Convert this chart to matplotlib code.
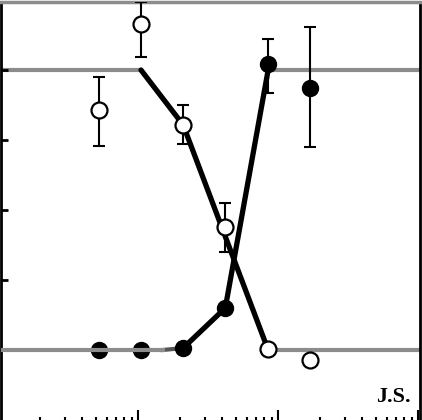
"""Dose-response style plot: open vs filled circle transitions on a log axis"""
import matplotlib.pyplot as plt
import matplotlib.ticker as mticker
import numpy as np

# concentrations (log axis) shared by both series
conc = [0.53, 1.05, 2.1, 4.2, 8.5, 17.0]

# open circles with asymmetric error bars
open_y = [85.7, 116.4, 80.4, 43.9, 0.4, -3.6]
open_err_low = [12.8, 11.8, 6.8, 8.9, 0.0, 0.0]
open_err_high = [11.8, 8.0, 7.1, 8.6, 0.0, 0.0]

# filled circles with asymmetric error bars
filled_y = [0.0, 0.0, 0.7, 15.0, 102.1, 93.6]
filled_err_low = [0.0, 0.0, 0.0, 0.0, 10.3, 21.1]
filled_err_high = [0.0, 0.0, 0.0, 0.0, 8.9, 21.8]

# fitted curves: plateau (gray) and transition (black) segments
open_plateau_hi_x = [0.1, 1.05]
open_plateau_hi_y = [100, 100]
open_fit_x = [1.05, 2.1, 8.5]
open_fit_y = [100, 80.4, 0]
open_plateau_lo_x = [8.5, 110]
open_plateau_lo_y = [0, 0]

filled_plateau_lo_x = [0.1, 1.5]
filled_plateau_lo_y = [0, 0]
filled_fit_x = [1.5, 2.1, 4.2, 8.5]
filled_fit_y = [0, 0.7, 15.0, 100]
filled_plateau_hi_x = [8.5, 110]
filled_plateau_hi_y = [100, 100]

yticks = [0, 25, 50, 75, 100]

fig = plt.figure(figsize=(4.22, 4.20), dpi=100)
ax = fig.add_axes([1 / 422, 0, 419 / 422, 418 / 420])

gray = '#8c8c8c'
ax.plot(open_plateau_hi_x, open_plateau_hi_y, color=gray, lw=3, zorder=1)
ax.plot(open_plateau_lo_x, open_plateau_lo_y, color=gray, lw=3, zorder=1)
# this one runs over the first filled markers, like the scan
ax.plot(filled_plateau_lo_x, filled_plateau_lo_y, color=gray, lw=3, zorder=5)
ax.plot(filled_plateau_hi_x, filled_plateau_hi_y, color=gray, lw=3, zorder=1)
ax.plot(open_fit_x, open_fit_y, color='black', lw=3.8, zorder=2, solid_capstyle='round')
ax.plot(filled_fit_x[:2], filled_fit_y[:2], color='#555555', lw=3, zorder=2)
ax.plot(filled_fit_x[1:], filled_fit_y[1:], color='black', lw=3.8, zorder=2, solid_capstyle='round')

# error bars then markers on top
ax.errorbar(conc, open_y, yerr=[open_err_low, open_err_high], fmt='none',
            ecolor='black', elinewidth=1.5, capsize=4, capthick=1.5, zorder=3)
ax.errorbar(conc, filled_y, yerr=[filled_err_low, filled_err_high], fmt='none',
            ecolor='black', elinewidth=1.5, capsize=4, capthick=1.5, zorder=3)
ax.plot(conc, open_y, 'o', ms=11.5, mfc='white', mec='black', mew=1.6, zorder=4)
ax.plot(conc, filled_y, 'o', ms=11.5, mfc='black', mec='black', mew=1, zorder=4)

ax.set_xscale('log')
ax.set_xlim(0.105, 103.3)
ax.set_ylim(-25, 124.3)
ax.set_yticks(yticks)
ax.xaxis.set_major_locator(mticker.LogLocator(base=10, numticks=10))
ax.xaxis.set_minor_locator(mticker.LogLocator(base=10, subs=np.arange(2, 10), numticks=10))
ax.tick_params(axis='y', direction='in', length=5, width=2, labelleft=False)
ax.tick_params(axis='x', which='major', direction='in', length=7, width=1.5, labelbottom=False)
ax.tick_params(axis='x', which='minor', direction='in', length=2.5, width=1.5)

ax.spines['bottom'].set_visible(False)
ax.spines['left'].set_linewidth(2)
ax.spines['right'].set_linewidth(2)
ax.spines['top'].set_color(gray)
ax.spines['top'].set_linewidth(2.5)

ax.text(0.978, 0.043, 'J.S.', transform=ax.transAxes, ha='right', va='baseline',
        fontsize=16, fontweight='bold', family='Liberation Serif')

fig.savefig('out.png', dpi=100)
